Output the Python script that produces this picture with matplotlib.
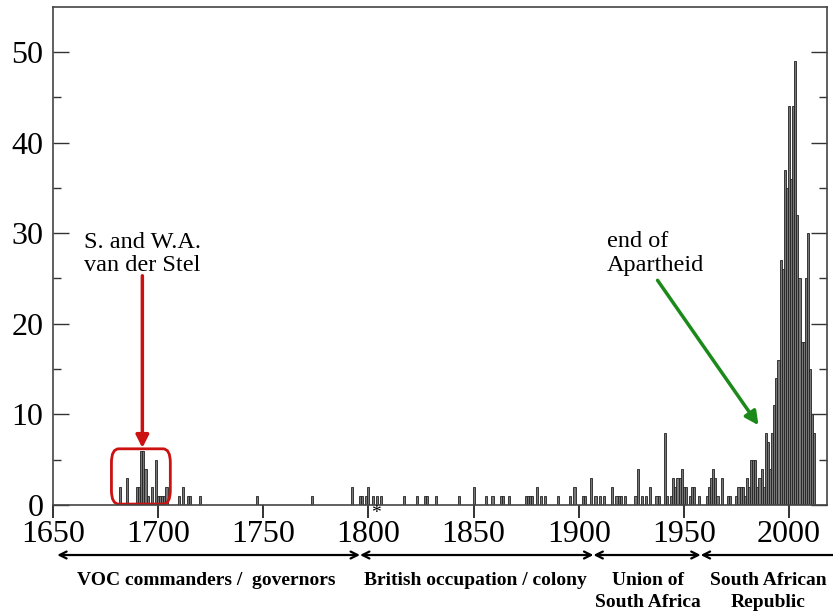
import matplotlib
matplotlib.use("Agg")
import matplotlib.pyplot as plt
from matplotlib.patches import FancyBboxPatch
from matplotlib.transforms import blended_transform_factory
import numpy as np

# Anzahl pro Jahr
years = [1682, 1685, 1690, 1691, 1692, 1693, 1694, 1695, 1697, 1699, 1700, 1701, 1702, 1703,
         1704, 1710, 1712, 1714, 1715, 1720, 1747, 1773, 1792, 1796, 1797, 1799, 1800, 1802,
         1804, 1806, 1817, 1823, 1827, 1828, 1832, 1843, 1850, 1856, 1859, 1863, 1864, 1867,
         1875, 1876, 1877, 1878, 1880, 1882, 1884, 1890, 1896, 1898, 1902, 1903, 1906, 1908,
         1910, 1912, 1916, 1918, 1919, 1920, 1922, 1927, 1928, 1930, 1932, 1934, 1937, 1938,
         1941, 1942, 1944, 1945, 1946, 1947, 1948, 1949, 1950, 1951, 1953, 1954, 1955, 1957,
         1961, 1962, 1963, 1964, 1965, 1966, 1968, 1971, 1972, 1975, 1976, 1977, 1978, 1979,
         1980, 1981, 1982, 1983, 1984, 1985, 1986, 1987, 1988, 1989, 1990, 1991, 1992, 1993,
         1994, 1995, 1996, 1997, 1998, 1999, 2000, 2001, 2002, 2003, 2004, 2005, 2006, 2007,
         2008, 2009, 2010, 2011, 2012]
counts = [2, 3, 2, 2, 6, 6, 4, 1, 2, 5, 1, 1, 1, 1,
          2, 1, 2, 1, 1, 1, 1, 1, 2, 1, 1, 1, 2, 1,
          1, 1, 1, 1, 1, 1, 1, 1, 2, 1, 1, 1, 1, 1,
          1, 1, 1, 1, 2, 1, 1, 1, 1, 2, 1, 1, 3, 1,
          1, 1, 2, 1, 1, 1, 1, 1, 4, 1, 1, 2, 1, 1,
          8, 1, 1, 3, 2, 3, 3, 4, 2, 2, 1, 2, 2, 1,
          1, 2, 3, 4, 3, 1, 3, 1, 1, 1, 2, 2, 2, 1,
          3, 2, 5, 5, 5, 2, 3, 4, 2, 8, 7, 4, 8, 11,
          14, 16, 27, 26, 37, 35, 44, 36, 44, 49, 32, 25, 18, 18,
          25, 30, 15, 10, 8]

period_bounds = [1652, 1796, 1907, 1958, 2025]
period_labels = ["VOC commanders /  governors", "British occupation / colony",
                 "Union of\nSouth Africa", "South African\nRepublic"]
period_label_x = [1723, 1851, 1933, 1990]

plt.rcParams['font.family'] = ['Liberation Serif', 'DejaVu Serif']

fig = plt.figure(figsize=(8.33, 6.13), dpi=100)
ax = fig.add_axes([0.0636, 0.1762, 0.929, 0.8129])

ax.bar(years, counts, width=1.0, color='#777777', edgecolor='#222222', linewidth=0.6)

ax.set_xlim(1650, 2018)
ax.set_ylim(0, 55)
ax.set_xticks(np.arange(1650, 2001, 50))
ax.set_yticks(np.arange(0, 51, 10))
ax.set_yticks(np.arange(5, 55, 10), minor=True)
ax.tick_params(axis='x', direction='out', length=9.5, width=1.3, labelsize=23, pad=1, colors='#222222')
ax.tick_params(axis='y', which='major', direction='in', length=11.5, width=1, labelsize=23,
               pad=7, right=True, colors='#333333')
ax.tick_params(axis='y', which='minor', direction='in', length=6, width=1, right=True, colors='#333333')
for t in ax.get_xticklabels() + ax.get_yticklabels():
    t.set_color('black')
for s in ax.spines.values():
    s.set_color('#444444')
    s.set_linewidth(1.2)

# Markierung van der Stel
box = FancyBboxPatch((1677.8, 0.1), 28, 6.1, boxstyle="round,pad=0,rounding_size=3.5",
                     fill=False, edgecolor='#cc1111', linewidth=2, mutation_aspect=1 / 2.3)
ax.add_patch(box)
ax.annotate("", xy=(1692.5, 6.3), xytext=(1692.5, 25.3),
            arrowprops=dict(arrowstyle='-|>,head_length=0.75,head_width=0.38', color='#cc1111',
                            lw=2.5, shrinkA=0, shrinkB=0))
ax.text(1720.2, 27.7, "S. and W.A.\nvan der Stel", ha='right', va='center', multialignment='right',
        fontsize=17.5, linespacing=1.1)

ax.annotate("", xy=(1985.5, 8.8), xytext=(1937.5, 24.8),
            arrowprops=dict(arrowstyle='-|>,head_length=0.8,head_width=0.4', color='#1b8a1b',
                            lw=2.5, shrinkA=0, shrinkB=0))
ax.text(1913.5, 27.8, "end of\nApartheid", ha='left', va='center', fontsize=17.5, linespacing=1.2)

ax.text(1803.5, -0.9, "*", ha='center', va='center', fontsize=14)

# Perioden unter der Achse
tr = blended_transform_factory(ax.transData, fig.transFigure)
for i in range(len(period_labels)):
    a, b = period_bounds[i], period_bounds[i + 1]
    if i < len(period_labels) - 1:
        style = '<->,head_length=0.5,head_width=0.25'
    else:
        style = '<-,head_length=0.5,head_width=0.25'
    ax.annotate("", xy=(b, 0.0946), xytext=(a, 0.0946), xycoords=tr, textcoords=tr,
                arrowprops=dict(arrowstyle=style, color='black', lw=1.6, shrinkA=0, shrinkB=0),
                annotation_clip=False)
for x, lab in zip(period_label_x, period_labels):
    y = 0.0538 if '\n' not in lab else 0.035
    ax.text(x, y, lab, transform=tr, ha='center', va='center',
            fontsize=14, fontweight='bold', linespacing=1.35)

fig.savefig("out.png", dpi=100)
